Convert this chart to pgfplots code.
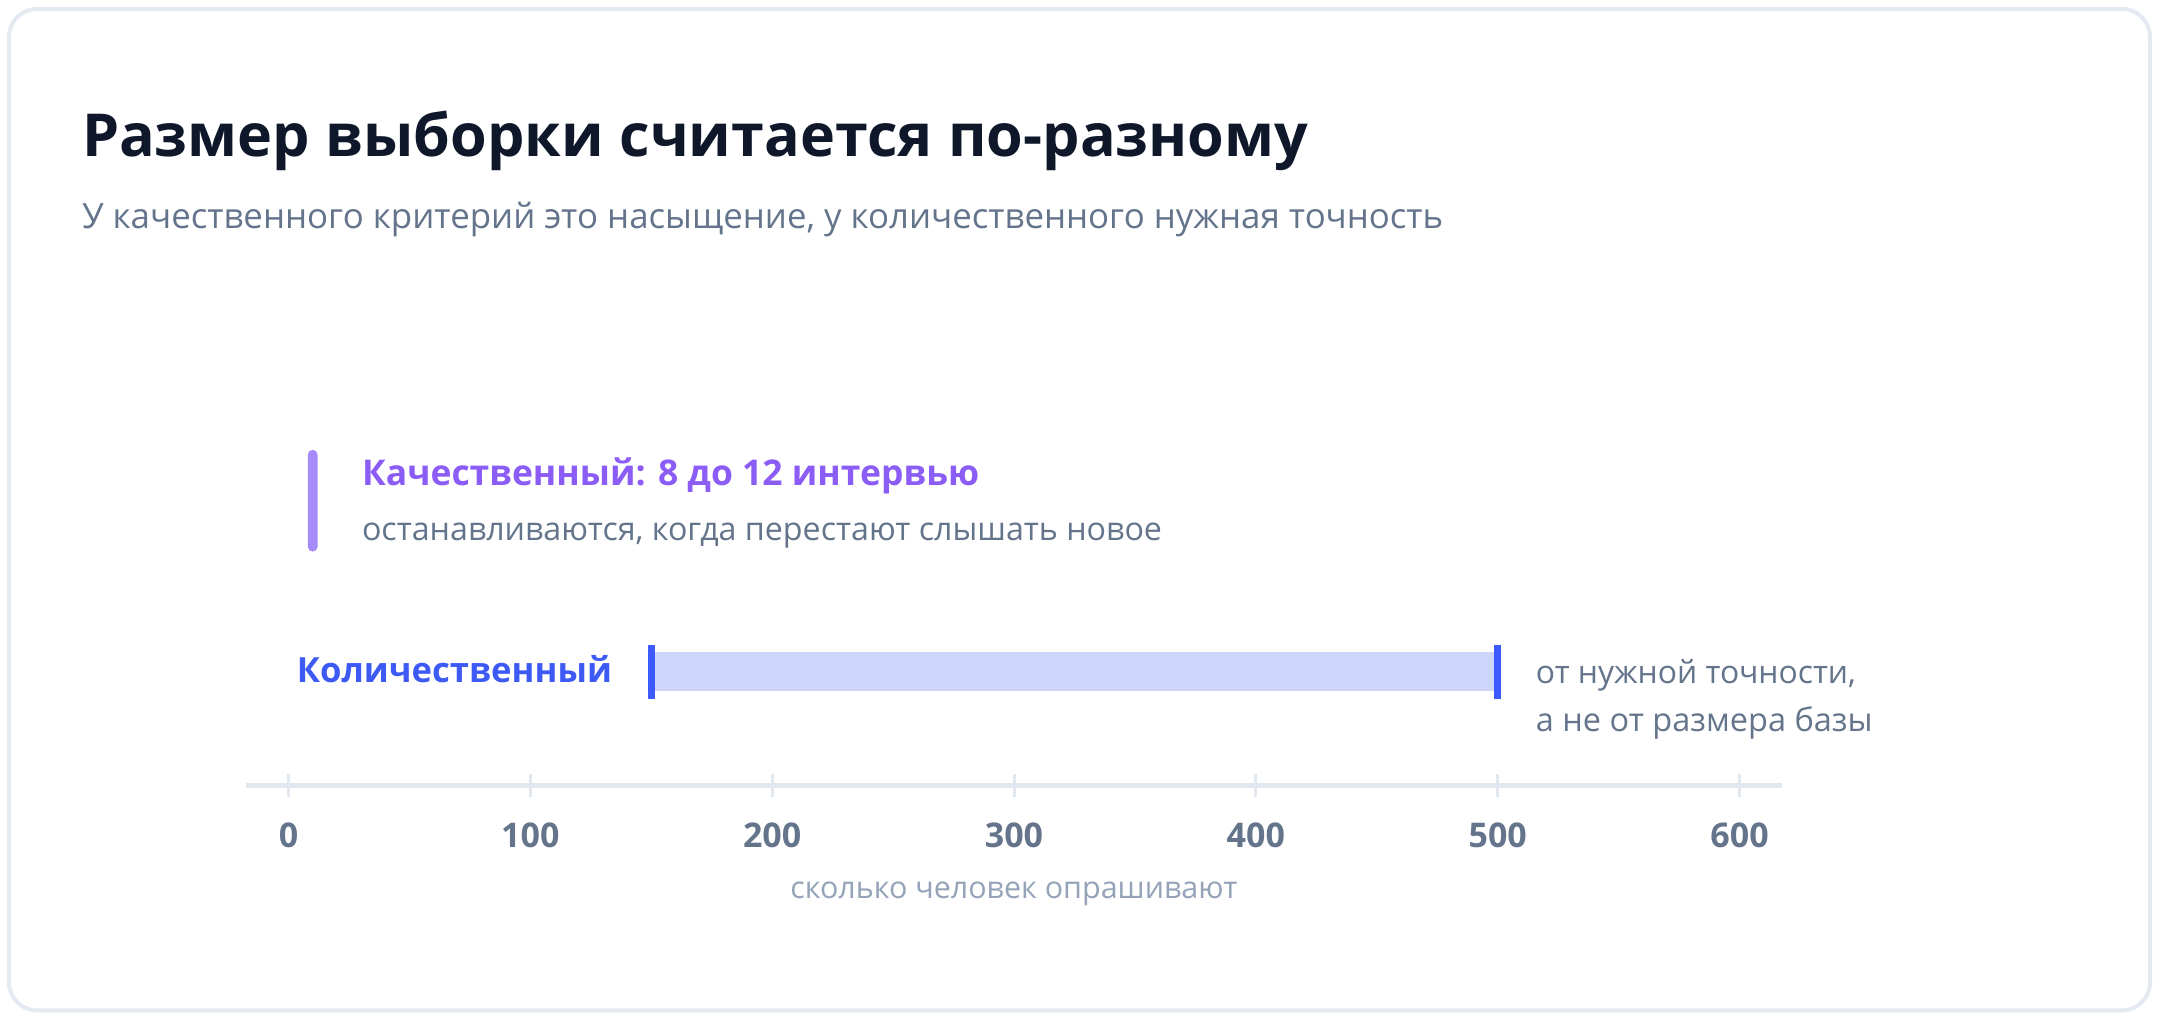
\documentclass[border=0pt]{standalone}
\usepackage{pgfplots}
\pgfplotsset{compat=1.18}
\usepackage{fontspec}
\setmainfont{Open Sans}
\definecolor{titlec}{HTML}{0F172A}
\definecolor{subc}{HTML}{64748B}
\definecolor{qualc}{HTML}{8B5CF6}
\definecolor{qualbar}{HTML}{A78BFA}
\definecolor{quantc}{HTML}{3D5AF5}
\definecolor{capc}{HTML}{3D5AFE}
\definecolor{barc}{RGB}{205,213,250}
\definecolor{axisc}{HTML}{E2E8F0}
\definecolor{labc}{HTML}{94A3B8}
\definecolor{cardc}{HTML}{E5E9F2}
\newlength\fitlen
\newcommand\fit[3]{\settowidth\fitlen{\fontsize{10pt}{12pt}\selectfont#2#3}\pgfmathsetmacro\fitsize{10*#1/\fitlen}\fontsize{\fitsize pt}{\fitsize pt}\selectfont#2#3}
\begin{document}
\begin{tikzpicture}
\useasboundingbox (0,0) rectangle (540pt,255pt);
\fill[white] (0,0) rectangle (540pt,255pt);
\draw[cardc, line width=1pt, rounded corners=7pt, fill=white] (2.25pt,2.4pt) rectangle (537.5pt,252.75pt);
\node[anchor=base west, inner sep=0, text=titlec] at (20.3pt,215.8pt) {\fit{306.6}{\bfseries}{Размер выборки считается по-разному}};
\node[anchor=base west, inner sep=0, text=subc] at (20.3pt,197.9pt) {\fit{340.3}{}{У качественного критерий это насыщение, у количественного нужная точность}};
\node[anchor=base west, inner sep=0, text=qualc] at (90.3pt,133.75pt) {\fit{154.3}{\bfseries}{Качественный: 8 до 12 интервью}};
\node[anchor=base west, inner sep=0, text=subc] at (90.3pt,120pt) {\fit{200}{}{останавливаются, когда перестают слышать новое}};
\node[anchor=base east, inner sep=0, text=quantc] at (153.2pt,84.5pt) {\fit{78.8}{\bfseries}{Количественный}};
\node[anchor=base west, inner sep=0, text=subc] at (383.75pt,84.25pt) {\fit{80}{}{от нужной точности,}};
\node[anchor=base west, inner sep=0, text=subc] at (383.75pt,72.1pt) {\fit{84.2}{}{а не от размера базы}};
\begin{axis}[
  at={(61.6pt,58.6pt)}, anchor=south west, scale only axis,
  width=383.8pt, height=85.5pt,
  xmin=-17.4, xmax=617.4, ymin=0, ymax=3,
  axis x line*=bottom, axis y line=none,
  x axis line style={draw=axisc, line width=1.08pt, -},
  xtick={0,100,200,300,400,500,600}, ytick=\empty,
  tick align=center, major tick length=5.8pt,
  xtick style={draw=axisc, line width=0.75pt},
  /pgf/number format/assume math mode=true,
  xticklabel style={font=\bfseries\fontsize{8.5pt}{8.5pt}\selectfont, text=subc, anchor=center, yshift=-9.6pt},
  xlabel={\fit{111.8}{}{сколько человек опрашивают}},
  xlabel style={at={(axis description cs:0.5,0)}, anchor=base, yshift=-28.1pt, text=labc, inner sep=0},
  clip=false,
]
\addplot[fill=barc, draw=none] coordinates {(150,0.831) (500,0.831) (500,1.170) (150,1.170)} -- cycle;
\addplot[capc, line width=1.75pt] coordinates {(150,0.761) (150,1.234)};
\addplot[capc, line width=1.75pt] coordinates {(500,0.761) (500,1.234)};
\addplot[fill=qualbar, draw=none, rounded corners=1.2pt] coordinates {(8,2.053) (12,2.053) (12,2.945) (8,2.945)} -- cycle;
\end{axis}
\end{tikzpicture}
\end{document}
